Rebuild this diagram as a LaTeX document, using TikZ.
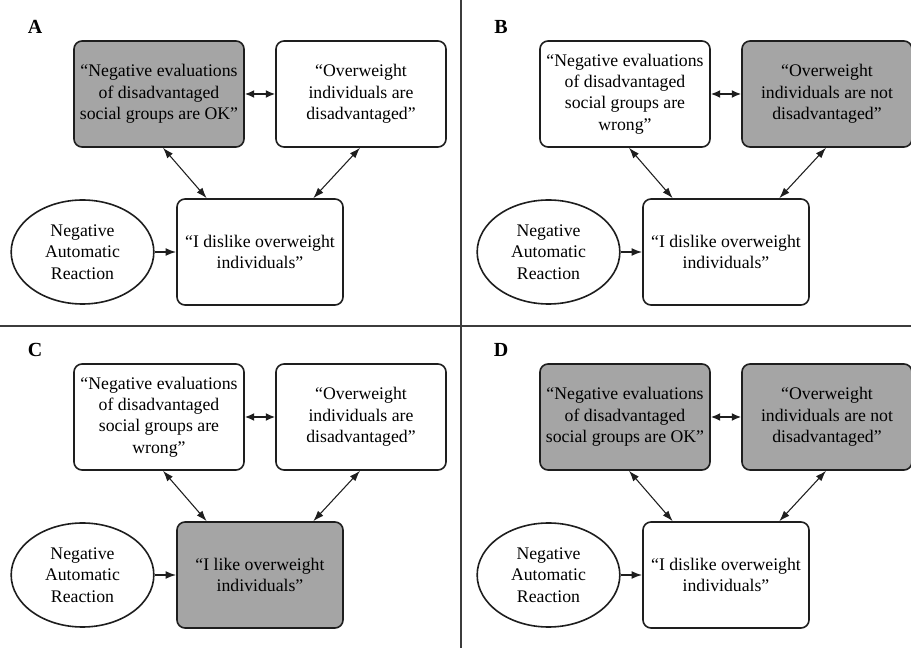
\documentclass[tikz,border=0pt]{standalone}
\usepackage{fontspec}
\setmainfont{Liberation Serif}
\usetikzlibrary{arrows.meta,shapes.geometric}
\definecolor{boxgray}{HTML}{A5A5A5}
\definecolor{inkc}{HTML}{1E1E1E}
\definecolor{rulec}{HTML}{3C3C3C}
\tikzset{
  txt/.style={font=\fontsize{13.3}{16}\selectfont},
  box/.style={txt,draw=inkc,line width=1.2pt,rounded corners=6pt,minimum width=127.5pt,minimum height=79.5pt,inner sep=0pt,align=center},
  ell/.style={txt,ellipse,draw=inkc,line width=1.2pt,minimum width=107pt,minimum height=78pt,inner sep=0pt,align=center},
  dbl/.style={{Latex[length=7pt,width=6pt]}-{Latex[length=7pt,width=6pt]},draw=inkc,line width=1.2pt},
  diag/.style={{Latex[length=8pt,width=5.5pt]}-{Latex[length=8pt,width=5.5pt]},draw=inkc,line width=0.8pt},
  single/.style={-{Latex[length=8pt,width=6pt]},draw=inkc,line width=1.2pt},
  lab/.style={font=\bfseries\fontsize{15}{18}\selectfont},
  divider/.style={draw=rulec,line width=1.5pt}
}
\newcommand{\drawpanel}[9]{%
  \begin{scope}[shift={(#1,#2)}]
    \node[lab] (#3-lab) at (35,27) {#3};
    \node[box,fill=#5] (#3-tl) at (159,94) {#4};
    \node[box,fill=#7] (#3-tr) at (361,94) {#6};
    \node[box,fill=#9,minimum width=124.5pt] (#3-bot) at (260,252) {#8};
    \node[ell] (#3-ell) at (82.5,252) {Negative\\Automatic\\Reaction};
    \draw[dbl] (#3-tl) -- (#3-tr);
    \draw[diag] ([xshift=3pt]#3-tl.south) -- ([xshift=-40pt]#3-bot.north);
    \draw[diag] ([xshift=-0.75pt]#3-tr.south) -- ([xshift=40pt]#3-bot.north);
    \draw[single] (#3-ell) -- (#3-bot);
  \end{scope}%
}
\begin{document}
\begin{tikzpicture}[x=0.75pt,y=-0.75pt]
  \useasboundingbox (0,0) rectangle (911,648);
  \fill[white] (0,0) rectangle (911,648);
  \coordinate (vt) at (461,0);
  \coordinate (vb) at (461,648);
  \coordinate (hl) at (0,326);
  \coordinate (hr) at (911,326);
  \draw[divider] (vt) -- (vb);
  \draw[divider] (hl) -- (hr);
  \drawpanel{0}{0}{A}{“Negative evaluations\\of disadvantaged\\social groups are OK”}{boxgray}{“Overweight\\individuals are\\disadvantaged”}{white}{“I dislike overweight\\individuals”}{white}
  \drawpanel{466}{0}{B}{“Negative evaluations\\of disadvantaged\\social groups are\\wrong”}{white}{“Overweight\\individuals are not\\disadvantaged”}{boxgray}{“I dislike overweight\\individuals”}{white}
  \drawpanel{0}{323}{C}{“Negative evaluations\\of disadvantaged\\social groups are\\wrong”}{white}{“Overweight\\individuals are\\disadvantaged”}{white}{“I like overweight\\individuals”}{boxgray}
  \drawpanel{466}{323}{D}{“Negative evaluations\\of disadvantaged\\social groups are OK”}{boxgray}{“Overweight\\individuals are not\\disadvantaged”}{boxgray}{“I dislike overweight\\individuals”}{white}
\end{tikzpicture}
\end{document}
